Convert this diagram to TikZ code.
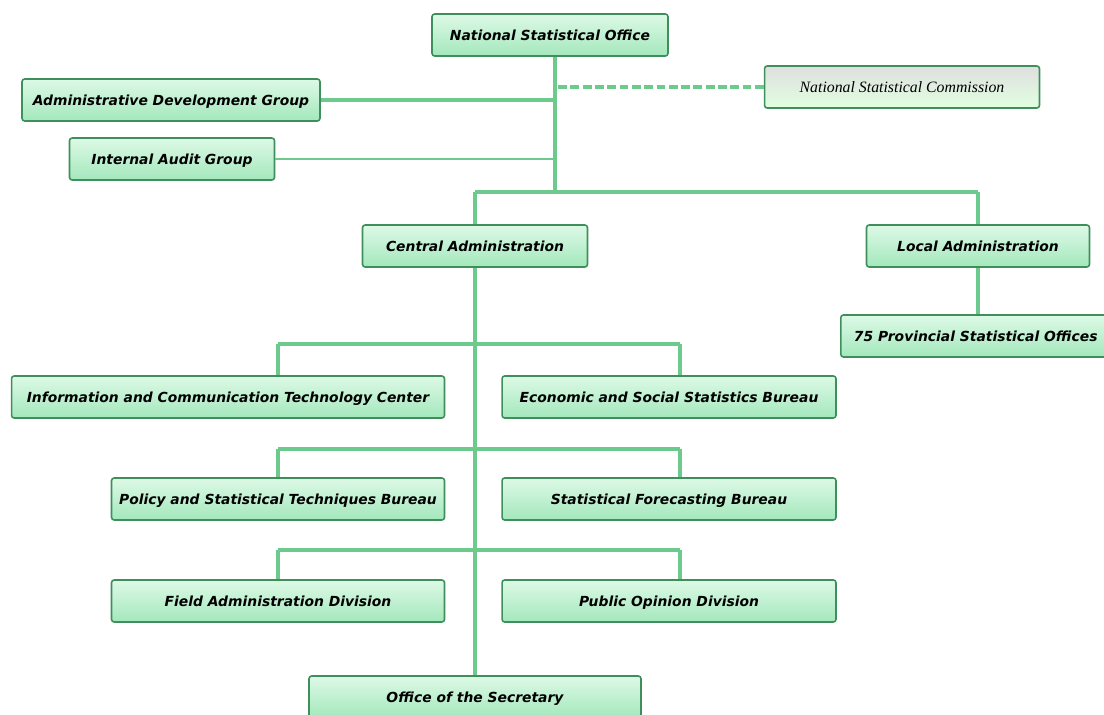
\documentclass[tikz,border=0pt]{standalone}
\usepackage{fontspec}
\setmainfont{DejaVu Sans}
\newfontfamily\serifit{Liberation Serif}
\usepackage{tikz}
\usetikzlibrary{positioning,calc}
\definecolor{lineGreen}{HTML}{6CCB8C}
\definecolor{boxEdge}{HTML}{3F8F5C}
\definecolor{boxTop}{HTML}{DDF9E6}
\definecolor{boxBottom}{HTML}{A3E8BC}

\begin{document}
\begin{tikzpicture}[x=0.02cm, y=-0.02cm,
        unitBox/.style={draw=boxEdge, line width=0.9pt, rounded corners=1.5pt, top color=boxTop, bottom color=boxBottom, minimum height=0.84cm, inner sep=2pt, text height=1.6ex, text depth=0.4ex, font=\fontsize{7.9}{9}\selectfont\bfseries\itshape, align=center},
        commBox/.style={unitBox, top color=gray!25, bottom color=green!12, font=\fontsize{9}{10}\selectfont\serifit\itshape},
        linkStyle/.style={draw=lineGreen, line width=2pt},
        thinLink/.style={draw=lineGreen, line width=1.1pt}
    ]
        \useasboundingbox (0,0) rectangle (1104,715);

        % Top level
        \node[unitBox, minimum width=4.72cm] (nso) at (550,35) {National Statistical Office};
        \node[unitBox, minimum width=5.96cm] (adg) at (171,100) {Administrative Development Group};
        \node[commBox, minimum width=5.5cm] (nsc) at (902,87) {National Statistical Commission};
        \node[unitBox, minimum width=4.1cm] (iag) at (172,159) {Internal Audit Group};

        \coordinate (hub) at (555,192);
        \draw[linkStyle] (nso.south -| hub) -- (hub);
        \draw[linkStyle] (adg.east) -- (adg.east -| hub);
        \draw[thinLink] (iag.east) -- (iag.east -| hub);
        \draw[linkStyle, dashed, dash pattern=on 5pt off 2pt] (nsc.west) -- (nsc.west -| hub);

        % Second level
        \node[unitBox, minimum width=4.5cm] (cen) at (475,246) {Central Administration};
        \node[unitBox, minimum width=4.46cm] (loc) at (978,246) {Local Administration};
        \node[unitBox, minimum width=5.4cm, anchor=west] (prov) at (840,336) {75 Provincial Statistical Offices};

        \draw[linkStyle] (hub -| cen.north) -- (hub -| loc.north);
        \draw[linkStyle] (hub -| cen.north) -- (cen.north);
        \draw[linkStyle] (hub -| loc.north) -- (loc.north);
        \draw[linkStyle] (loc.south) -- (loc.south |- prov.north);

        % Central branches
        \node[unitBox, minimum width=8.66cm] (ict) at (228,397) {Information and Communication Technology Center};
        \node[unitBox, minimum width=6.68cm] (ess) at (669,397) {Economic and Social Statistics Bureau};
        \node[unitBox, minimum width=6.66cm] (pol) at (278,499) {Policy and Statistical Techniques Bureau};
        \node[unitBox, minimum width=6.68cm] (sfb) at (669,499) {Statistical Forecasting Bureau};
        \node[unitBox, minimum width=6.66cm] (fad) at (278,601) {Field Administration Division};
        \node[unitBox, minimum width=6.68cm] (pod) at (669,601) {Public Opinion Division};
        \node[unitBox, minimum width=6.64cm] (sec) at (475,697) {Office of the Secretary};

        \coordinate (l1) at (278,344);
        \coordinate (r1) at (680,344);
        \coordinate (l2) at (278,449);
        \coordinate (r2) at (680,449);
        \coordinate (l3) at (278,550);
        \coordinate (r3) at (680,550);

        \draw[linkStyle] (cen.south) -- (sec.north);
        \draw[linkStyle] (l1) -- (r1);
        \draw[linkStyle] (l1) -- (l1 |- ict.north);
        \draw[linkStyle] (r1) -- (r1 |- ess.north);
        \draw[linkStyle] (l2) -- (r2);
        \draw[linkStyle] (l2) -- (l2 |- pol.north);
        \draw[linkStyle] (r2) -- (r2 |- sfb.north);
        \draw[linkStyle] (l3) -- (r3);
        \draw[linkStyle] (l3) -- (l3 |- fad.north);
        \draw[linkStyle] (r3) -- (r3 |- pod.north);
    \end{tikzpicture}
\end{document}
